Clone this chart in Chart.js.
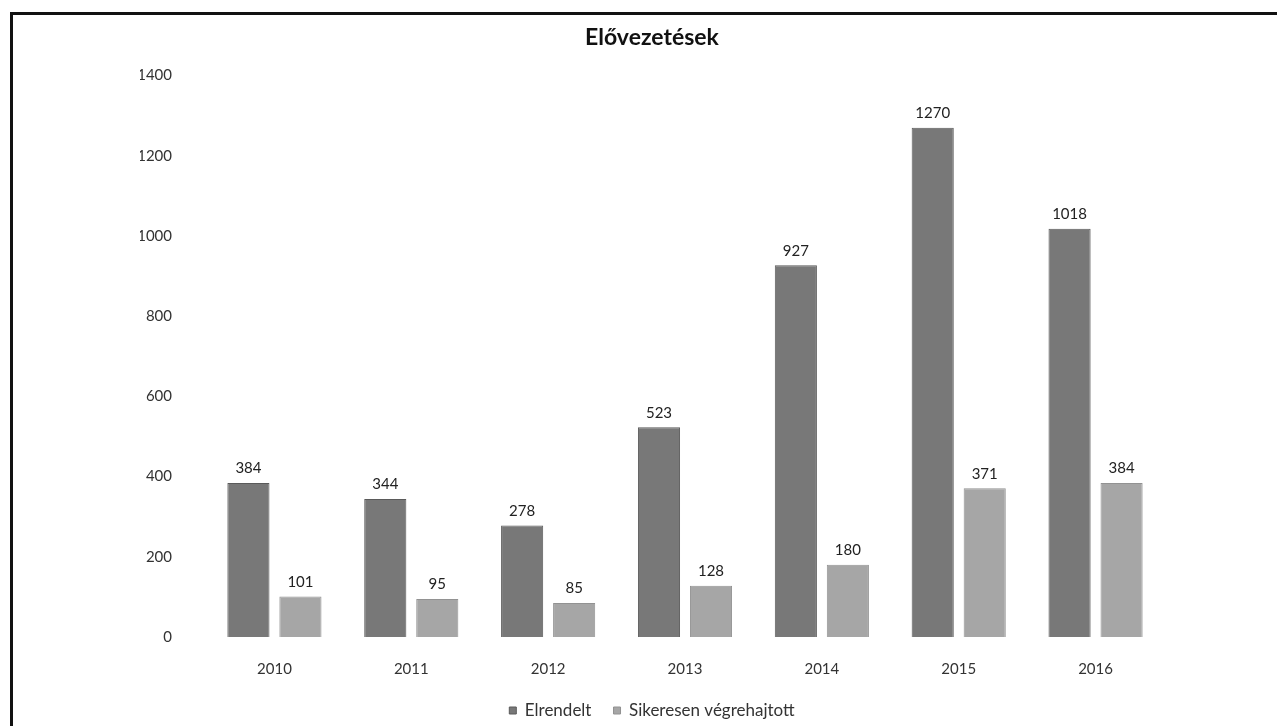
<!DOCTYPE html>
<html>
<head>
<meta charset="utf-8">
<script src="https://cdn.jsdelivr.net/npm/chart.js@4.4.1/dist/chart.umd.min.js"></script>
<style>
  html, body { margin: 0; padding: 0; background: #fff; }
  #wrap { position: relative; width: 1277px; height: 726px; overflow: hidden; }
  #frame { position: absolute; left: 10px; top: 12px; width: 1300px; height: 800px;
           border-left: 3px solid #111; border-top: 3px solid #111; }
  canvas { position: absolute; left: 0; top: 0; }
</style>
</head>
<body>
<div id="wrap">
  <div id="frame"></div>
  <canvas id="chart" width="1277" height="726"></canvas>
</div>
<script>
// Adatok
const years = ['2010', '2011', '2012', '2013', '2014', '2015', '2016'];
const elrendelt = [384, 344, 278, 523, 927, 1270, 1018];
const sikeresen = [101, 95, 85, 128, 180, 371, 384];
const seriesNames = ['Elrendelt', 'Sikeresen végrehajtott'];
const yTicks = [0, 200, 400, 600, 800, 1000, 1200, 1400];

const FONT = 'Lato, "Open Sans", sans-serif';

// Értékcímkék az oszlopok fölé
const valueLabels = {
  id: 'valueLabels',
  afterDatasetsDraw(chart) {
    const ctx = chart.ctx;
    ctx.save();
    ctx.font = '15px ' + FONT;
    ctx.fillStyle = '#222';
    ctx.textAlign = 'center';
    ctx.textBaseline = 'bottom';
    chart.data.datasets.forEach((ds, i) => {
      chart.getDatasetMeta(i).data.forEach((bar, j) => {
        ctx.fillText(ds.data[j], bar.x, bar.y - 7);
      });
    });
    ctx.restore();
  }
};

new Chart(document.getElementById('chart'), {
  type: 'bar',
  data: {
    labels: years,
    datasets: [
      {
        label: seriesNames[0],
        data: elrendelt,
        backgroundColor: '#787878',
        borderColor: '#5a5a5a',
        borderWidth: 1,
        barPercentage: 0.81,
        categoryPercentage: 0.76
      },
      {
        label: seriesNames[1],
        data: sikeresen,
        backgroundColor: '#a6a6a6',
        borderColor: '#929292',
        borderWidth: 1,
        barPercentage: 0.81,
        categoryPercentage: 0.76
      }
    ]
  },
  options: {
    responsive: false,
    animation: false,
    layout: { padding: { left: 140, right: 113, top: 24, bottom: -3 } },
    plugins: {
      title: {
        display: true,
        text: 'Elővezetések',
        color: '#111',
        font: { family: FONT, size: 23, weight: 'bold' },
        padding: { top: 0, bottom: 24 }
      },
      legend: {
        display: true,
        position: 'bottom',
        labels: {
          color: '#333',
          font: { family: FONT, size: 17 },
          boxWidth: 7,
          boxHeight: 7,
          padding: 9,
          generateLabels(chart) {
            // a két jelmagyarázat-elem közti nagyobb térköz miatt
            return Chart.defaults.plugins.legend.labels.generateLabels(chart).map((item, i) => {
              if (i === 0) item.text = item.text + '   ';
              return item;
            });
          }
        }
      },
      tooltip: { enabled: false }
    },
    scales: {
      x: {
        grid: { display: false },
        border: { display: false },
        ticks: { color: '#333', font: { family: FONT, size: 15 }, padding: 15 }
      },
      y: {
        min: 0,
        max: 1400,
        afterBuildTicks(scale) {
          scale.ticks = yTicks.map(v => ({ value: v }));
        },
        afterFit(scale) { scale.width = 66; },
        grid: { display: false },
        border: { display: false },
        ticks: {
          color: '#333',
          font: { family: FONT, size: 15 },
          padding: 26,
          callback: v => String(v)
        }
      }
    }
  },
  plugins: [valueLabels]
});
</script>
</body>
</html>
